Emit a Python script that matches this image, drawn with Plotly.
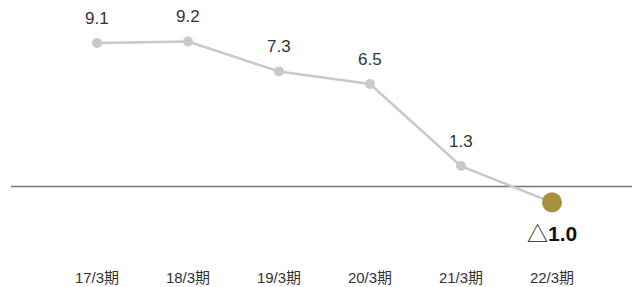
import plotly.graph_objects as go

categories = ["17/3期", "18/3期", "19/3期", "20/3期", "21/3期", "22/3期"]
values = [9.1, 9.2, 7.3, 6.5, 1.3, -1.0]
labels = ["9.1", "9.2", "7.3", "6.5", "1.3", "1.0"]

FONT = "Liberation Sans, Arial, Noto Sans CJK JP, sans-serif"

fig = go.Figure()
fig.add_trace(go.Scatter(
    x=categories, y=values, mode="lines+markers",
    line=dict(color="#c9c9c9", width=2.5),
    marker=dict(color="#c9c9c9", size=10),
    hoverinfo="skip", showlegend=False,
))
fig.add_trace(go.Scatter(
    x=[categories[-1]], y=[values[-1]], mode="markers",
    marker=dict(color="#a88f3e", size=20),
    hoverinfo="skip", showlegend=False,
))

for c, v, t in zip(categories, values, labels):
    neg = v < 0
    if neg:
        txt = '<span style="font-family:Noto Sans CJK JP;font-weight:normal">△</span><b>%s</b>' % t
    else:
        txt = t
    fig.add_annotation(
        x=c, y=v, text=txt, showarrow=False,
        yshift=-30 if neg else 25,
        font=dict(family=FONT, size=21 if neg else 17, color="#111" if neg else "#333"),
    )

fig.add_shape(type="line", xref="paper", yref="y", x0=0, x1=1, y0=0, y1=0,
              line=dict(color="#777777", width=1.5), layer="below")

fig.update_layout(
    width=632, height=287,
    margin=dict(l=11, r=0, t=0, b=20),
    paper_bgcolor="white", plot_bgcolor="white",
    font=dict(family=FONT, size=15, color="#333"),
    xaxis=dict(range=[-0.945, 5.879], showgrid=False, zeroline=False, showline=False,
               ticks="", tickfont=dict(size=15, color="#333")),
    yaxis=dict(range=[-5.10, 11.83], showgrid=False, zeroline=False, showline=False,
               showticklabels=False),
)
fig.write_html("out.html", config={"displayModeBar": False},
               post_script="document.body.style.margin='0';document.body.style.padding='0';")
